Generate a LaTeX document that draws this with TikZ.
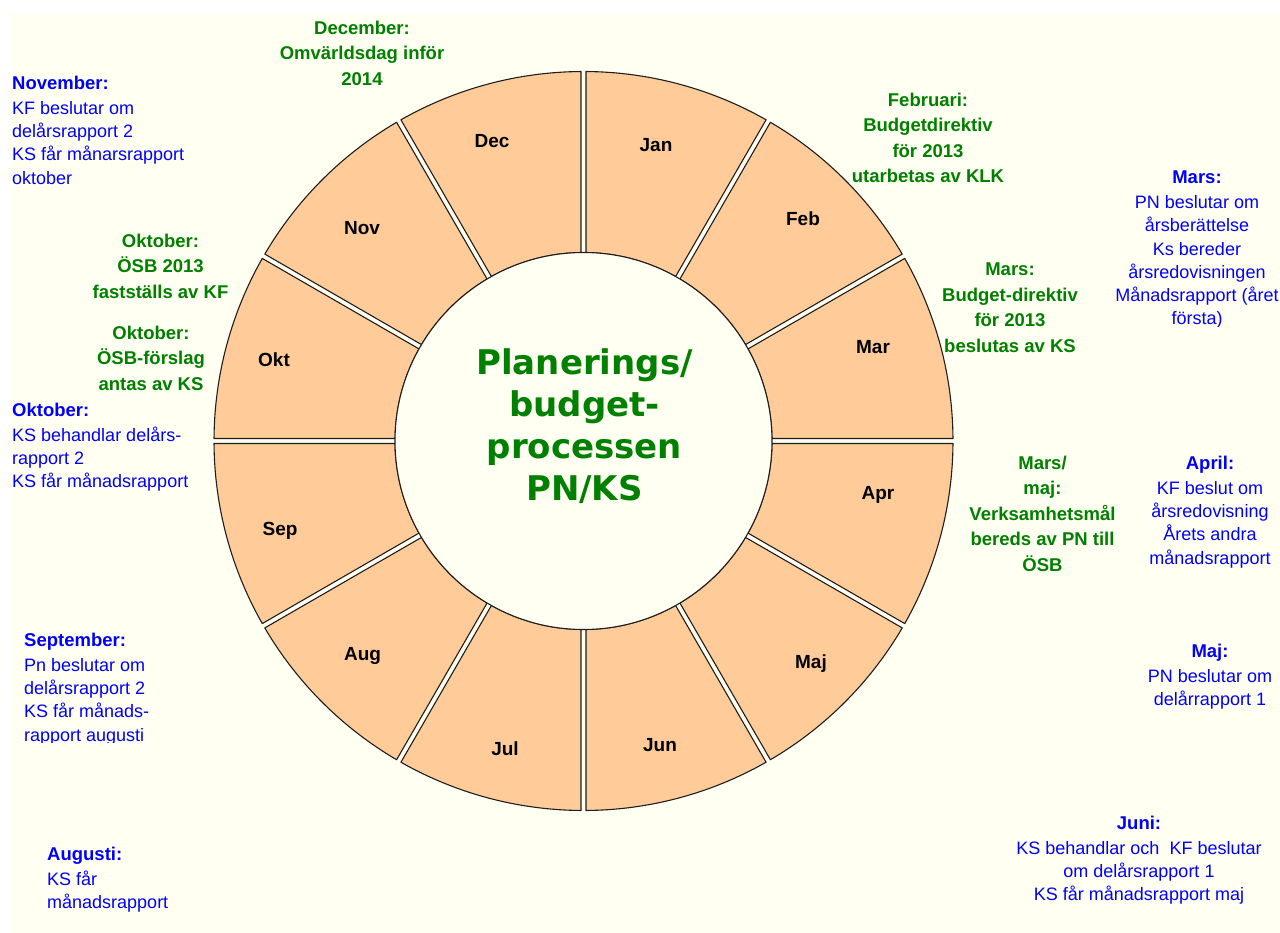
\documentclass[tikz,border=0pt]{standalone}
\usepackage{fontspec}
\setmainfont{Liberation Sans}
\newfontfamily\centerfont{DejaVu Sans}
\definecolor{bg}{RGB}{255,255,242}
\definecolor{peach}{RGB}{255,204,153}
\definecolor{dgreen}{RGB}{0,128,0}
\definecolor{tblue}{RGB}{0,0,255}
\definecolor{edgec}{RGB}{30,30,30}
\newcommand\ttl[1]{{\bfseries\fontsize{18.5}{23.3}\selectfont #1}\\[1.7pt]}
\tikzset{
  sector/.style={fill=peach, draw=edgec, line width=1.1pt, line join=round},
  month/.style={font=\bfseries\fontsize{19}{22}\selectfont, anchor=base, inner sep=0pt},
  gtxt/.style={font=\bfseries\fontsize{18.5}{25.6}\selectfont, text=dgreen, align=center, anchor=north, inner sep=0pt},
  btxt/.style={font=\fontsize{18}{23.3}\selectfont, text=tblue, inner sep=0pt},
  bleft/.style={btxt, align=left, anchor=north west},
  bcent/.style={btxt, align=center, anchor=north},
}
\begin{document}
\begin{tikzpicture}[x=1pt,y=-1pt]
\useasboundingbox (0,0) rectangle (1280,933);
\fill[white] (0,0) rectangle (1280,933);
\fill[bg] (9,14) rectangle (1281,934);

\begin{scope}[shift={(583.5,441)}]
  \foreach \k in {0,...,11}{
    \pgfmathsetmacro\aone{-90+30*\k}
    \pgfmathsetmacro\atwo{\aone+30}
    \path[sector] (\aone+0.388:369.5) arc[start angle=\aone+0.388, end angle=\atwo-0.388, radius=369.5]
      -- (\atwo-0.760:188.5) arc[start angle=\atwo-0.760, end angle=\aone+0.760, radius=188.5] -- cycle;
  }
  \path[fill=bg, draw=edgec, line width=1.1pt] (0,0) circle[radius=188.5];
\end{scope}

\node[font=\centerfont\bfseries\fontsize{34}{42.2}\selectfont, text=dgreen, align=center, anchor=north, inner sep=0pt] (title) at (584.5,348.2) {Planerings/\\budget-\\processen\\PN/KS};

% month labels
\node[month] (jan) at (656,151.7) {Jan};
\node[month] (feb) at (803,226) {Feb};
\node[month] (mar) at (873,353) {Mar};
\node[month] (apr) at (878,499) {Apr};
\node[month] (maj) at (811,668) {Maj};
\node[month] (jun) at (660,751) {Jun};
\node[month] (jul) at (505,755) {Jul};
\node[month] (aug) at (362.5,660.7) {Aug};
\node[month] (sep) at (280,535) {Sep};
\node[month] (okt) at (274,366.7) {Okt};
\node[month] (nov) at (362,235) {Nov};
\node[month] (dec) at (492,148) {Dec};

% green notes
\node[gtxt] (gdec) at (362,20.5) {December:\\Omvärldsdag inför\\2014};
\node[gtxt] (gfeb) at (928,92.5) {Februari:\\Budgetdirektiv\\för 2013\\utarbetas av KLK};
\node[gtxt] (gmar) at (1010,262.5) {Mars:\\Budget-direktiv\\för 2013\\beslutas av KS};
\node[gtxt] (gmarmaj) at (1042.5,455.5) {Mars/\\maj:\\Verksamhetsmål\\bereds av PN till\\ÖSB};
\node[gtxt] (gokt1) at (160.5,233.5) {Oktober:\\ÖSB 2013\\fastställs av KF};
\node[gtxt] (gokt2) at (151,325.5) {Oktober:\\ÖSB-förslag\\antas av KS};

% blue notes
\node[bleft] (bnov) at (12,75.5) {\ttl{November:}KF beslutar om\\delårsrapport 2\\KS får månarsrapport\\oktober};
\node[bleft] (bokt) at (12,402.5) {\ttl{Oktober:}KS behandlar delårs-\\rapport 2\\KS får månadsrapport};
\begin{scope}
  \clip (0,0) rectangle (1280,742.3);
  \node[bleft] (bsep) at (24,632.5) {\ttl{September:}Pn beslutar om\\delårsrapport 2\\KS får månads-\\rapport augusti};
\end{scope}
\node[bleft] (baug) at (47,846.5) {\ttl{Augusti:}KS får\\månadsrapport};
\begin{scope}
  \clip (0,0) rectangle (1280,327);
  \node[bcent] (bmar) at (1197,170.5) {\ttl{Mars:}PN beslutar om\\årsberättelse\\Ks bereder\\årsredovisningen\\Månadsrapport (året\\första)};
\end{scope}
\node[bcent] (bapr) at (1210,455.5) {\ttl{April:}KF beslut om\\årsredovisning\\Årets andra\\månadsrapport};
\node[bcent] (bmaj) at (1210,643.5) {\ttl{Maj:}PN beslutar om\\delårrapport 1};
\node[bcent] (bjun) at (1139,815.5) {\ttl{Juni:}KS behandlar och~ KF beslutar\\om delårsrapport 1\\KS får månadsrapport maj};
\end{tikzpicture}
\end{document}
